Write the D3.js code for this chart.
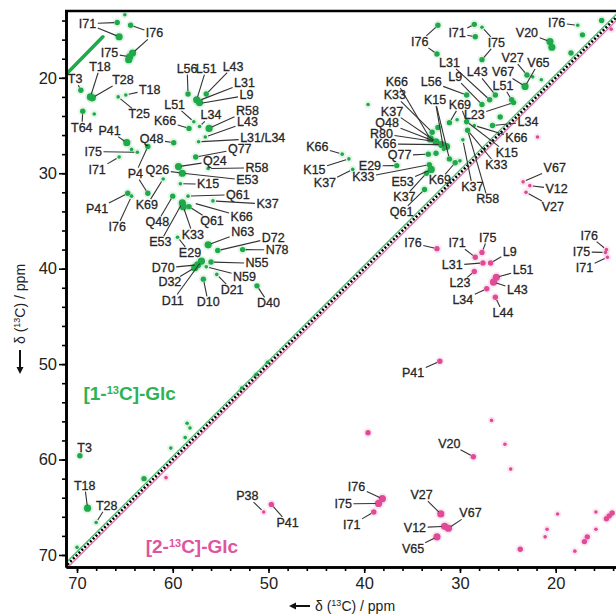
<!DOCTYPE html>
<html>
<head>
<meta charset="utf-8">
<script src="https://cdn.jsdelivr.net/npm/d3@7"></script>
<style>
  body { margin: 0; background: #fff; }
  svg { display: block; font-family: "Liberation Sans", Arial, sans-serif; }
</style>
</head>
<body>
<svg id="chart" width="616" height="616"></svg>
<script>
// axis ticks (ppm)
const xTicks = [70, 60, 50, 40, 30, 20];
const yTicks = [20, 30, 40, 50, 60, 70];

// [1-13C]-Glc cross peaks: [x ppm, y ppm, intensity 1..3]
const greenPeaks = [
  [65.8,14.2,2],[65.6,15.7,3],[65.0,13.4,1],[64.4,14.5,2],[64.2,17.4,3],[64.5,17.8,3],[64.6,18.1,3],
  [69.6,21.3,2],[68.6,22.0,3],[68.4,22.1,3],[69.4,23.5,2],[68.2,23.8,1],[65.7,22.0,1],[64.9,21.8,1],
  [64.8,26.8,3],[59.9,26.8,2],[62.6,27.2,2],[58.4,21.7,2],[57.5,22.3,3],[57.2,22.6,3],[56.5,21.7,2],
  [57.8,24.6,1],[58.3,25.3,2],[57.2,25.1,1],[56.2,25.3,3],[56.6,26.2,1],[57.3,26.7,1],[57.6,28.3,2],
  [59.4,29.3,3],[59.0,30.0,3],[56.3,29.5,1],[59.2,31.1,1],[61.0,30.6,1],[63.7,27.8,1],[64.3,27.5,1],
  [65.6,28.3,1],[62.6,32.1,2],[64.7,32.1,2],[64.3,32.4,1],[60.0,32.4,2],[58.4,32.4,1],[59.0,33.1,3],
  [58.9,33.5,3],[58.3,33.5,2],[55.8,32.9,1],[59.5,36.7,1],[56.3,37.5,3],[55.3,38.1,2],[52.7,38.0,2],
  [57.0,39.2,3],[57.4,39.6,3],[57.7,39.9,3],[56.0,39.3,2],[56.5,39.8,1],[56.8,41.1,2],[55.4,40.6,1],
  [51.2,41.8,2],
  [32.3,14.5,2],[32.4,17.5,2],[28.5,14.4,2],[28.4,15.7,2],[27.7,14.7,1],[27.7,18.1,2],[20.6,16.2,3],
  [20.4,16.8,3],[17.7,14.5,1],[15.2,14.0,2],[17.2,15.5,2],[18.4,17.4,2],[23.0,19.7,2],[23.2,20.9,3],
  [22.4,19.9,1],[21.5,20.2,1],[24.6,22.3,2],[24.4,22.6,2],[26.3,21.8,2],[26.9,22.3,2],[27.7,22.8,2],
  [29.3,21.8,2],[39.6,22.8,1],[42.3,28.0,1],[41.6,28.5,1],[41.2,29.6,1],[36.6,29.2,2],[25.8,24.1,2],
  [26.6,25.0,2],[32.9,25.7,2],[32.3,25.2,2],[31.1,24.7,2],[30.3,24.4,1],[29.3,24.6,2],[29.2,25.5,2],
  [28.5,25.0,1],[33.1,26.4,3],[32.5,26.7,3],[31.9,27.0,3],[31.4,27.2,3],[32.5,27.9,2],[33.3,28.0,2],
  [31.1,28.5,2],[30.5,28.9,2],[30.0,28.7,1],[29.7,26.5,1],[33.2,29.1,2],[33.0,29.6,3],[33.5,30.0,2],
  [33.7,31.7,2],[31.7,27.5,1],
  [69.7,59.6,2],[68.9,65.1,3],[68.0,66.6,1],[70.0,69.2,1],[63.0,62.0,2],[60.2,58.8,1],[58.2,56.7,1],
  [58.5,56.2,1],[58.7,57.7,1],[52.8,52.5,1],[51.3,51.1,1],[50.1,49.8,1]
];

// folded diagonal streak, top left
const greenStreak = [[70.9,19.4],[67.3,15.7]];

// [2-13C]-Glc cross peaks
const magentaPeaks = [
  [21.9,26.2,1],[23.4,30.9,1],[22.7,31.3,1],[23.1,32.0,1],[32.4,37.9,2],[28.4,38.8,2],[27.7,38.3,2],
  [27.6,39.4,2],[26.8,39.4,2],[28.5,40.3,2],[26.2,40.9,3],[26.5,41.4,3],[27.2,42.1,2],[26.3,43.0,2],
  [14.7,38.0,1],[14.8,38.3,1],[14.6,38.8,1],[32.1,49.7,2],[39.6,57.2,2],[26.7,55.9,1],[25.3,58.4,1],
  [24.7,61.0,1],[28.6,59.7,2],[38.1,64.1,3],[38.5,64.6,3],[39.0,65.5,2],[32.0,65.7,3],[31.6,67.0,3],
  [31.2,67.2,3],[32.4,68.1,3],[23.7,69.4,2],[19.8,65.7,1],[20.9,67.3,1],[21.1,68.1,1],[18.0,69.6,1],
  [15.8,65.5,1],[15.8,67.3,1],[17.0,68.6,2],[16.7,68.1,2],[14.7,66.2,2],[14.4,65.9,2],[14.1,65.6,2],
  [50.5,65.5,1],[49.7,64.7,2],[60.7,61.9,1],[14.2,14.9,1]
];

// assignments: [text, label x, label y, [[peak x, peak y], ...]]
const greenLabels = [
  ["I71",68.9,14.3,[[65.8,14.2],[65.6,15.7]]],
  ["I76",61.9,15.3,[[64.4,14.5],[64.2,17.4]]],
  ["I75",66.6,17.4,[[64.5,17.8]]],
  ["T3",70.2,20.1,[[69.6,21.3]]],
  ["T18",67.6,18.8,[[68.6,22.0]]],
  ["T28",65.2,20.2,[[68.4,22.1]]],
  ["T18",62.4,21.2,[[64.9,21.8]]],
  ["T25",63.5,23.8,[[65.7,22.0]]],
  ["T64",69.5,25.2,[[69.4,23.5]]],
  ["P41",66.6,25.5,[[64.8,26.8]]],
  ["I75",68.3,27.7,[[63.7,27.8]]],
  ["I71",67.9,29.6,[[65.6,28.3]]],
  ["P4",63.9,30.0,[[62.6,27.2],[62.6,32.1]]],
  ["Q26",61.6,29.6,[[59.0,30.0]]],
  ["Q48",62.2,26.4,[[59.9,26.8]]],
  ["K66",60.8,24.5,[[58.3,25.3]]],
  ["L51",59.8,22.8,[[57.8,24.6]]],
  ["L56",58.5,19.0,[[58.4,21.7]]],
  ["L51",56.5,19.0,[[57.5,22.3]]],
  ["L43",53.7,18.8,[[56.5,21.7]]],
  ["L31",52.5,20.5,[[57.3,22.4]]],
  ["L9",52.3,21.8,[[57.2,22.7]]],
  ["L34",56.0,23.9,[[57.2,25.1]]],
  ["R58",52.2,23.4,[[56.2,25.3]]],
  ["L43",52.2,24.6,[[56.6,26.2]]],
  ["L31/L34",50.6,26.3,[[57.3,26.7]]],
  ["Q77",53.0,27.4,[[57.6,28.3]]],
  ["Q24",55.6,28.7,[[59.4,29.3]]],
  ["R58",51.2,29.4,[[56.3,29.5]]],
  ["E53",52.2,30.7,[[59.0,30.0]]],
  ["K15",56.3,31.1,[[59.2,31.1]]],
  ["Q61",53.2,32.2,[[58.4,32.4]]],
  ["K37",50.1,33.2,[[55.8,32.9]]],
  ["K66",52.8,34.5,[[57.9,33.1]]],
  ["Q61",55.9,35.0,[[58.3,33.5]]],
  ["K33",57.9,36.4,[[58.9,33.5]]],
  ["E53",61.3,37.2,[[59.0,33.1]]],
  ["Q48",61.6,35.1,[[60.0,32.4]]],
  ["K69",62.7,33.3,[[61.0,30.6]]],
  ["P41",67.9,33.7,[[64.7,32.1]]],
  ["I76",65.8,35.6,[[64.3,32.4]]],
  ["E29",58.2,38.3,[[59.5,36.7]]],
  ["N63",52.7,36.1,[[56.3,37.5]]],
  ["D72",49.5,36.7,[[55.3,38.1]]],
  ["N78",49.1,38.0,[[52.7,38.0]]],
  ["N55",51.2,39.4,[[56.0,39.3]]],
  ["N59",52.5,40.8,[[56.5,39.8]]],
  ["D70",61.0,39.9,[[57.4,39.6]]],
  ["D32",60.3,41.4,[[57.7,39.9]]],
  ["D11",60.0,43.3,[[57.0,39.2]]],
  ["D10",56.3,43.5,[[56.8,41.1]]],
  ["D21",53.8,42.2,[[55.4,40.6]]],
  ["D40",50.0,43.6,[[51.2,41.8]]],
  ["I76",34.2,16.2,[[32.3,14.5],[32.4,17.5]]],
  ["I71",30.3,15.3,[[28.5,14.4],[28.4,15.7]]],
  ["I75",26.2,16.3,[[27.7,14.7],[27.7,18.1]]],
  ["V20",23.0,15.3,[[20.6,16.2]]],
  ["I76",19.9,14.2,[[17.7,14.5]]],
  ["V27",24.5,17.9,[[23.0,19.7]]],
  ["V65",21.8,18.4,[[23.2,20.9]]],
  ["V67",25.5,19.4,[[23.2,20.9]]],
  ["L43",28.2,19.4,[[26.3,21.8]]],
  ["L31",31.1,18.4,[[26.9,22.3]]],
  ["L9",30.5,19.9,[[27.7,22.8]]],
  ["L56",33.0,20.4,[[29.3,21.8]]],
  ["L51",25.5,20.8,[[24.6,22.3]]],
  ["K66",36.6,20.4,[[33.1,26.4]]],
  ["K33",36.8,21.8,[[32.9,25.7]]],
  ["K15",32.6,22.3,[[31.1,28.5],[31.7,27.5]]],
  ["K69",30.0,22.8,[[31.1,24.7],[29.3,24.6]]],
  ["L23",28.5,23.9,[[24.4,22.6]]],
  ["K37",37.1,23.5,[[32.5,26.7]]],
  ["Q48",37.6,24.7,[[32.5,26.7]]],
  ["R80",38.2,25.8,[[32.5,26.7]]],
  ["K66",37.8,26.9,[[31.9,27.0]]],
  ["Q77",36.3,28.1,[[33.3,28.0]]],
  ["E29",39.4,29.2,[[36.6,29.2]]],
  ["K33",40.1,30.4,[[33.2,29.1]]],
  ["E53",36.0,30.9,[[33.0,29.6]]],
  ["K37",35.8,32.5,[[33.5,30.0]]],
  ["Q61",36.1,34.0,[[33.7,31.7]]],
  ["K69",32.1,30.7,[[30.5,28.9]]],
  ["K37",28.7,31.4,[[29.7,26.5]]],
  ["R58",27.1,32.7,[[29.2,25.5]]],
  ["K33",26.2,29.1,[[29.2,25.5]]],
  ["K15",25.1,27.8,[[29.3,24.6]]],
  ["K66",24.1,26.3,[[28.5,25.0]]],
  ["L34",22.9,24.6,[[26.6,25.0]]],
  ["K66",44.9,27.2,[[42.3,28.0]]],
  ["K15",45.2,29.6,[[41.6,28.5]]],
  ["K37",44.1,31.0,[[41.2,29.6]]],
  ["T3",69.2,58.7,[]],
  ["T18",69.2,62.7,[[68.9,65.1]]],
  ["T28",66.9,64.8,[[68.0,66.6]]]
];

const magentaLabels = [
  ["V67",20.1,29.4,[[23.4,30.9]]],
  ["V12",19.9,31.6,[[22.7,31.3]]],
  ["V27",20.3,33.5,[[23.1,32.0]]],
  ["I76",34.9,37.3,[[32.4,37.9]]],
  ["I71",30.3,37.3,[[28.4,38.8]]],
  ["I75",27.1,36.7,[[27.7,38.3]]],
  ["L9",24.8,38.2,[[26.8,39.4]]],
  ["L31",30.8,39.6,[[27.6,39.4]]],
  ["L23",30.0,41.5,[[28.5,40.3]]],
  ["L51",23.4,40.1,[[26.2,40.9]]],
  ["L43",24.0,42.2,[[26.5,41.4]]],
  ["L34",29.7,43.2,[[27.2,42.1]]],
  ["L44",25.5,44.6,[[26.3,43.0]]],
  ["I76",16.5,36.5,[[14.7,38.0]]],
  ["I75",17.3,38.2,[[14.8,38.3]]],
  ["I71",17.0,39.9,[[14.6,38.8]]],
  ["P41",34.9,50.9,[[32.1,49.7]]],
  ["V20",31.1,58.3,[[28.6,59.7]]],
  ["I76",40.8,62.8,[[38.1,64.1]]],
  ["I75",42.2,64.6,[[38.5,64.6]]],
  ["I71",41.3,66.8,[[39.0,65.5]]],
  ["V27",34.0,63.7,[[32.0,65.7]]],
  ["V67",28.9,65.6,[[31.2,67.2]]],
  ["V12",34.7,67.1,[[31.6,67.0]]],
  ["V65",34.9,69.3,[[32.4,68.1]]],
  ["P38",52.2,63.8,[[50.5,65.5]]],
  ["P41",48.0,66.6,[[49.7,64.7]]]
];

const green = "#1faa4a", magenta = "#e04a97", ink = "#262626";
const mLeft = 66, mRight = 616, mTop = 11, mBottom = 567;

const svg = d3.select("#chart");
const x = d3.scaleLinear().domain([71.15, 13.7]).range([mLeft, mRight]);
const y = d3.scaleLinear().domain([13.0, 71.26]).range([mTop, mBottom]);
const r = d3.scaleLinear().domain([1, 3]).range([1.8, 3.6]);

svg.append("clipPath").attr("id", "plot")
  .append("rect").attr("x", mLeft).attr("y", mTop).attr("width", mRight - mLeft).attr("height", mBottom - mTop);

const plot = svg.append("g").attr("clip-path", "url(#plot)");

// diagonal: green edge, magenta edge, dotted black autopeaks
const diag = [[71.3, 71.3], [13.5, 13.5]];
const dline = d3.line().x(d => x(d[0])).y(d => y(d[1]));
plot.append("path").attr("d", dline(diag)).attr("stroke", green).attr("stroke-width", 1.3)
  .attr("opacity", 0.8).attr("fill", "none").attr("transform", "translate(-1.6,-1.6)");
plot.append("path").attr("d", dline(diag)).attr("stroke", magenta).attr("stroke-width", 1.3)
  .attr("opacity", 0.8).attr("fill", "none").attr("transform", "translate(1.6,1.6)");
plot.append("path").attr("d", dline(diag)).attr("stroke", "#000").attr("stroke-width", 2.6)
  .attr("stroke-dasharray", "2 2").attr("fill", "none");

plot.append("path").attr("d", dline(greenStreak)).attr("stroke", green)
  .attr("stroke-width", 3.5).attr("stroke-linecap", "round").attr("fill", "none");

function drawPeaks(data, color) {
  const g = plot.append("g");
  g.selectAll(".halo").data(data).join("circle")
    .attr("cx", d => x(d[0])).attr("cy", d => y(d[1]))
    .attr("r", d => r(d[2]) + 2).attr("fill", color).attr("opacity", 0.12);
  g.selectAll(".pk").data(data).join("circle")
    .attr("cx", d => x(d[0])).attr("cy", d => y(d[1]))
    .attr("r", d => r(d[2])).attr("fill", color);
}
drawPeaks(greenPeaks, green);
drawPeaks(magentaPeaks, magenta);

// labels with leader lines
const annot = svg.append("g");
function drawLabels(list) {
  list.forEach(l => {
    const t = annot.append("text")
      .attr("x", x(l[1])).attr("y", y(l[2])).attr("dy", "0.35em")
      .attr("text-anchor", "middle").attr("font-size", 12.5).attr("fill", ink)
      .attr("stroke", ink).attr("stroke-width", 0.3)
      .text(l[0]);
    const bb = t.node().getBBox();
    const cx = bb.x + bb.width / 2, cy = bb.y + bb.height / 2;
    const hw = bb.width / 2 + 1.5, hh = bb.height / 2 - 1;
    l[3].forEach(p => {
      const tx = x(p[0]), ty = y(p[1]);
      const dx = tx - cx, dy = ty - cy;
      const len = Math.hypot(dx, dy);
      const s = Math.min(hw / Math.max(Math.abs(dx), 1e-6), hh / Math.max(Math.abs(dy), 1e-6));
      if (s >= 1) return;
      annot.append("line")
        .attr("x1", cx + dx * s).attr("y1", cy + dy * s)
        .attr("x2", tx - dx / len * 3).attr("y2", ty - dy / len * 3)
        .attr("stroke", "#333").attr("stroke-width", 1.1);
    });
  });
}
drawLabels(greenLabels);
drawLabels(magentaLabels);

// sample tags
svg.append("text").attr("x", x(64.5)).attr("y", 400).attr("text-anchor", "middle")
  .attr("font-size", 19).attr("font-weight", "bold").attr("fill", "#2db353")
  .html('[1-<tspan baseline-shift="super" font-size="11">13</tspan>C]-Glc');
svg.append("text").attr("x", x(58.0)).attr("y", 553).attr("text-anchor", "middle")
  .attr("font-size", 19).attr("font-weight", "bold").attr("fill", "#e0539e")
  .html('[2-<tspan baseline-shift="super" font-size="11">13</tspan>C]-Glc');

// axes
const xAxisMinor = d3.axisBottom(x).tickValues(d3.range(14, 71, 2)).tickSize(4).tickFormat("").tickSizeOuter(0);
const xAxisMajor = d3.axisBottom(x).tickValues(xTicks).tickSize(6).tickPadding(4).tickSizeOuter(0);
const yAxisMinor = d3.axisLeft(y).tickValues(d3.range(14, 71, 2)).tickSize(4).tickFormat("").tickSizeOuter(0);
const yAxisMajor = d3.axisLeft(y).tickValues(yTicks).tickSize(7).tickPadding(2).tickSizeOuter(0);

function styleAxis(g) {
  g.select(".domain").attr("stroke", "#000").attr("stroke-width", 2.6);
  g.selectAll(".tick line").attr("stroke", "#000").attr("stroke-width", 1.6);
  g.selectAll(".tick text").attr("font-size", 16.5).attr("fill", "#222")
    .attr("font-family", "'Liberation Sans', Arial, sans-serif");
}
svg.append("g").attr("transform", `translate(0,${mBottom})`).call(xAxisMinor).call(styleAxis);
svg.append("g").attr("transform", `translate(0,${mBottom})`).call(xAxisMajor).call(styleAxis);
svg.append("g").attr("transform", `translate(${mLeft},0)`).call(yAxisMinor).call(styleAxis);
svg.append("g").attr("transform", `translate(${mLeft},0)`).call(yAxisMajor).call(styleAxis);
svg.append("line").attr("x1", mLeft - 1).attr("x2", mRight).attr("y1", mTop).attr("y2", mTop)
  .attr("stroke", "#000").attr("stroke-width", 2.6);

// axis titles with arrows
function arrow(x1, y1, x2, y2) {
  const a = Math.atan2(y2 - y1, x2 - x1), h = 7, w = 3.5;
  svg.append("line").attr("x1", x1).attr("y1", y1)
    .attr("x2", x2 - Math.cos(a) * h * 0.8).attr("y2", y2 - Math.sin(a) * h * 0.8)
    .attr("stroke", "#111").attr("stroke-width", 2);
  const bx = x2 - Math.cos(a) * h, by = y2 - Math.sin(a) * h;
  svg.append("path").attr("fill", "#111")
    .attr("d", `M${x2},${y2}L${bx - Math.sin(a) * w},${by + Math.cos(a) * w}L${bx + Math.sin(a) * w},${by - Math.cos(a) * w}Z`);
}
arrow(310, 606, 289, 606);
svg.append("text").attr("x", 315).attr("y", 611).attr("font-size", 14).attr("fill", "#222")
  .html('δ (<tspan baseline-shift="super" font-size="9">13</tspan>C) / ppm');
arrow(20, 350, 20, 374);
svg.append("text").attr("transform", "translate(25,344) rotate(-90)").attr("font-size", 14).attr("fill", "#222")
  .html('δ (<tspan baseline-shift="super" font-size="9">13</tspan>C) / ppm');
</script>
</body>
</html>
